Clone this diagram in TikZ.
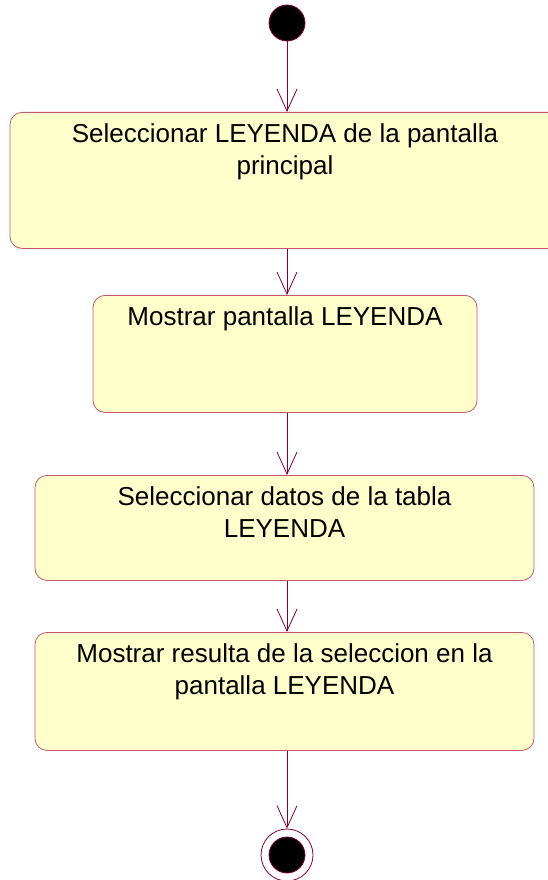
\documentclass[tikz,border=0pt]{standalone}
\usepackage{fontspec}
\setmainfont{Liberation Sans}
\usetikzlibrary{arrows.meta, positioning}
\definecolor{FlowWine}{RGB}{128,0,64}
\definecolor{BoxRose}{RGB}{196,86,110}
\definecolor{ActYellow}{RGB}{255,255,204}

\tikzset{
  actbox/.style={draw=BoxRose, fill=ActYellow, rounded corners=12pt,
                 inner sep=0pt, anchor=north, line width=0.8pt},
  flow/.style={draw=FlowWine, line width=0.8pt,
               -{Straight Barb[length=22pt, width=20pt, line width=0.8pt]}},
}
% box text: width, height, text (top aligned)
\newcommand{\acttext}[3]{\parbox[t][#2][t]{#1}{\centering\vspace*{11pt}%
  \fontsize{26}{32}\selectfont #3}}

\begin{document}
\begin{tikzpicture}[x=1pt, y=-1pt]
  \useasboundingbox (0,0) rectangle (548,880);

  % start state
  \node[circle, fill=black, draw=FlowWine, line width=0.8pt,
        minimum size=36pt, inner sep=0pt] (start) at (287,23) {};

  % activities
  \node[actbox] (selLeyenda) at (285,112)
    {\acttext{550pt}{136pt}{Seleccionar LEYENDA de la pantalla\\principal}};
  \node[actbox] (showLeyenda) at (285,295)
    {\acttext{384pt}{117pt}{Mostrar pantalla LEYENDA}};
  \node[actbox] (selDatos) at (284.5,475)
    {\acttext{499pt}{105pt}{Seleccionar datos de la tabla\\LEYENDA}};
  \node[actbox] (showResult) at (284.5,632)
    {\acttext{499pt}{118pt}{Mostrar resulta de la seleccion en la\\pantalla LEYENDA}};

  % final state
  \node[circle, draw=FlowWine, line width=0.8pt,
        minimum size=52pt, inner sep=0pt] (stop) at (287,855) {};
  \node[circle, fill=black, draw=FlowWine, line width=0.8pt,
        minimum size=36pt, inner sep=0pt] (stopDot) at (stop.center) {};

  % transitions
  \draw[flow] (start.south) -- (start.south |- selLeyenda.north);
  \draw[flow] (start.south |- selLeyenda.south) -- (start.south |- showLeyenda.north);
  \draw[flow] (start.south |- showLeyenda.south) -- (start.south |- selDatos.north);
  \draw[flow] (start.south |- selDatos.south) -- (start.south |- showResult.north);
  \draw[flow] (start.south |- showResult.south) -- (stop.north);
\end{tikzpicture}
\end{document}
